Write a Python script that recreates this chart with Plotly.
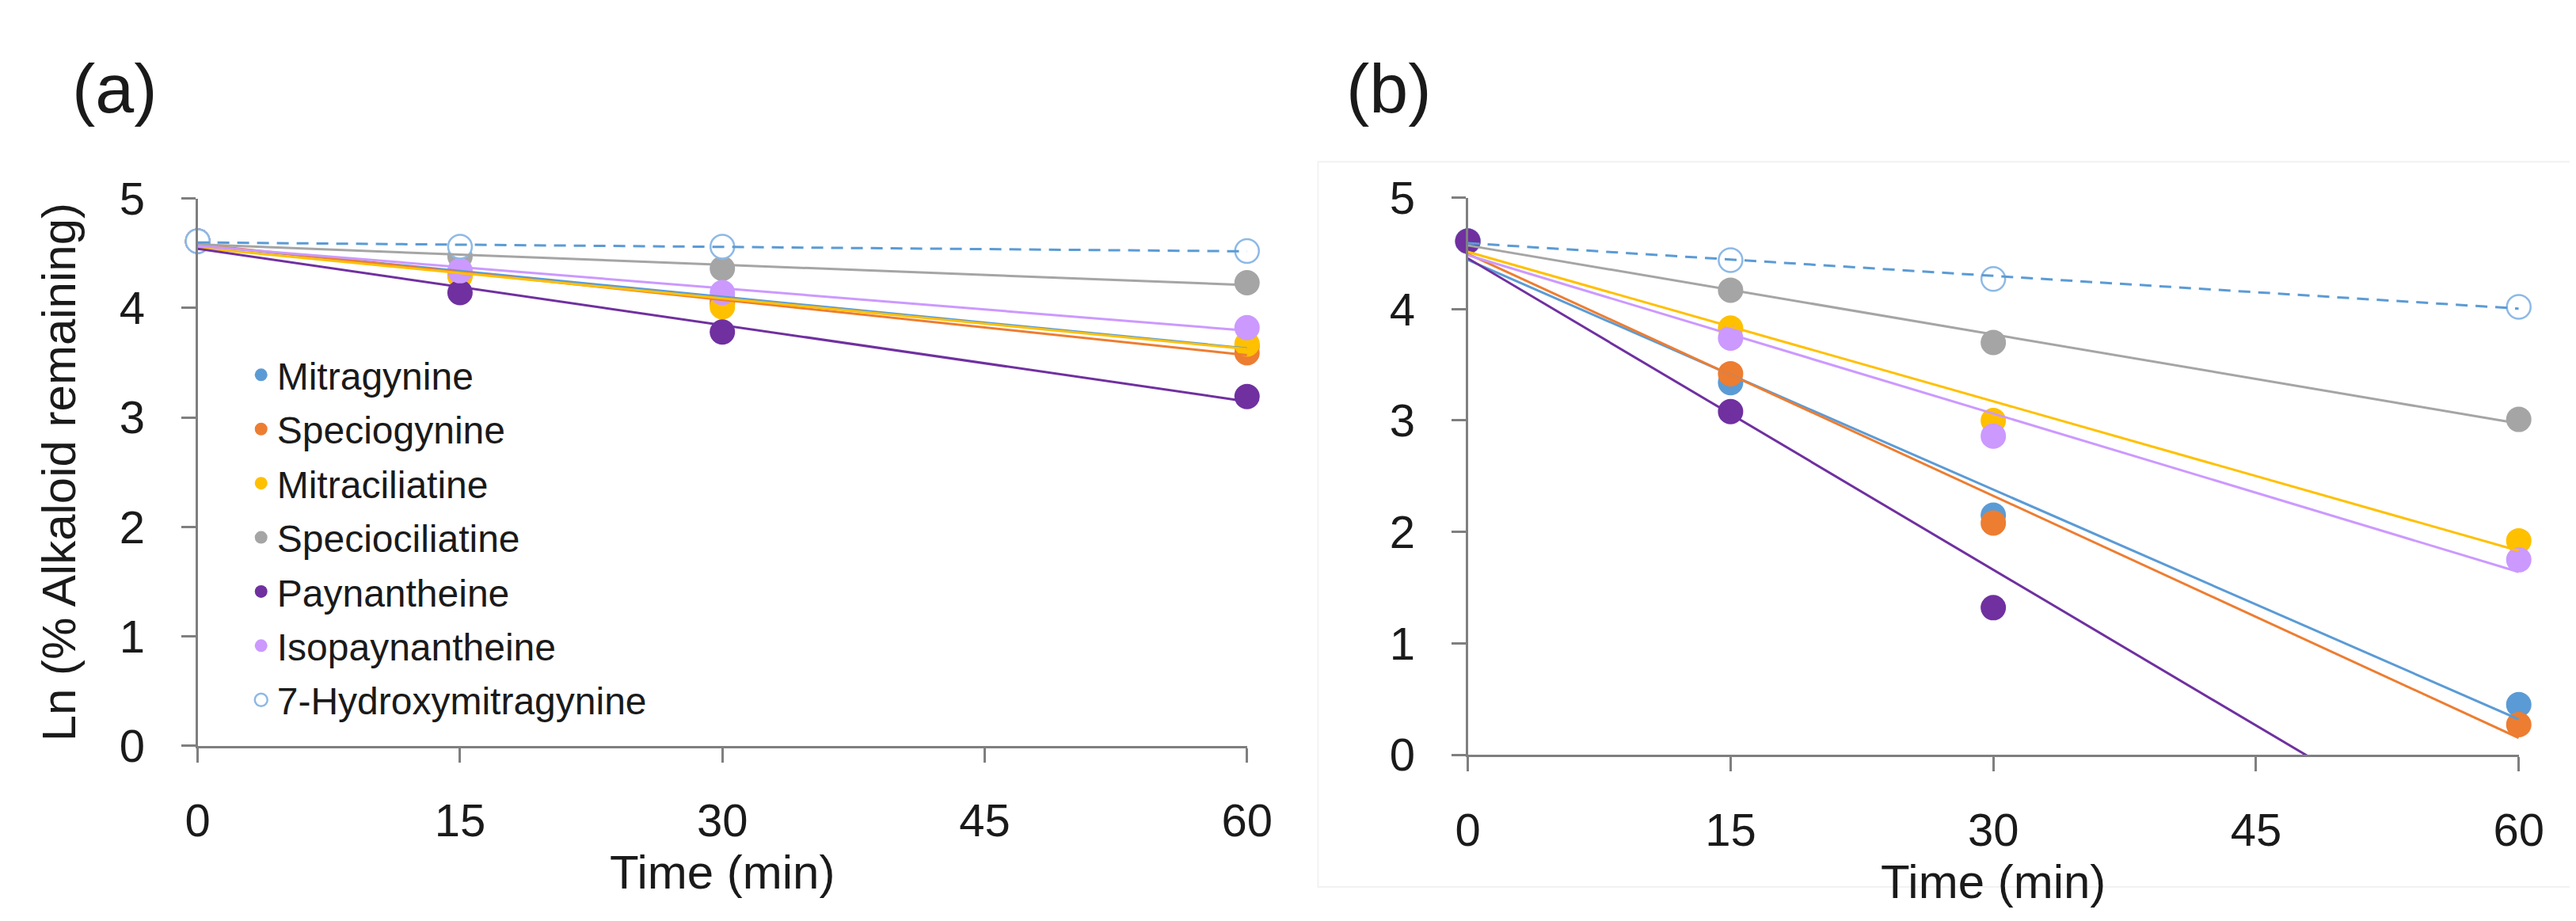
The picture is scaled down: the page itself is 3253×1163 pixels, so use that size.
import numpy as np
import plotly.graph_objects as go

W, H = 3253, 1163

time = [0, 15, 30, 60]
names = ['Mitragynine', 'Speciogynine', 'Mitraciliatine', 'Speciociliatine',
         'Paynantheine', 'Isopaynantheine', '7-Hydroxymitragynine']
colors = ['#5B9BD5', '#ED7D31', '#FFC000', '#A5A5A5', '#7030A0', '#CC99FF', '#5B9BD5']

# panel (a) - Ln(% remaining)
a_mitragynine = [4.61, 4.30, 4.08, 3.65]
a_speciogynine = [4.61, 4.31, 4.04, 3.59]
a_mitraciliatine = [4.61, 4.29, 4.01, 3.67]
a_speciociliatine = [4.61, 4.47, 4.36, 4.23]
a_paynantheine = [4.61, 4.14, 3.78, 3.19]
a_isopaynantheine = [4.61, 4.34, 4.14, 3.82]
a_hydroxy = [4.61, 4.56, 4.56, 4.52]

# panel (b)
b_mitragynine = [4.61, 3.34, 2.15, 0.45]
b_speciogynine = [4.61, 3.42, 2.08, 0.27]
b_mitraciliatine = [4.61, 3.83, 3.00, 1.92]
b_speciociliatine = [4.61, 4.17, 3.70, 3.01]
b_paynantheine = [4.61, 3.08, 1.32, -0.97]
b_isopaynantheine = [4.61, 3.74, 2.86, 1.75]
b_hydroxy = [4.61, 4.44, 4.27, 4.02]

panel_a = [a_mitragynine, a_speciogynine, a_mitraciliatine, a_speciociliatine,
           a_paynantheine, a_isopaynantheine, a_hydroxy]
panel_b = [b_mitragynine, b_speciogynine, b_mitraciliatine, b_speciociliatine,
           b_paynantheine, b_isopaynantheine, b_hydroxy]

# marker stacking order per panel (in (b) paynantheine sits on top)
order_a = [0, 1, 2, 3, 4, 5, 6]
order_b = [0, 1, 2, 3, 5, 6, 4]

FONT = 'Liberation Sans, Arial, sans-serif'
TXT = '#1a1a1a'
AXIS_COLOR = '#7f7f7f'


def add_panel(fig, data, order, xref, yref, show_legend):
    t = np.array(time, dtype=float)
    # measured points (only the ones inside the visible 0-5 range)
    for i in order:
        ys = data[i]
        pts = [(x, y) for x, y in zip(time, ys) if y >= 0]
        if names[i].startswith('7-'):
            marker = dict(size=30, color='white', symbol='circle',
                          line=dict(color='#8DB9E6', width=2.5))
        else:
            marker = dict(size=32, color=colors[i], line=dict(width=0))
        fig.add_trace(go.Scatter(
            x=[p[0] for p in pts], y=[p[1] for p in pts], mode='markers',
            marker=marker, name=names[i], legendgroup=names[i], legendrank=i,
            xaxis=xref, yaxis=yref, showlegend=show_legend, cliponaxis=False))
    # excel-style linear trendlines drawn over the points
    for i, ys in enumerate(data):
        slope, intercept = np.polyfit(t, np.array(ys), 1)
        xs = [t.min(), t.max()]
        dashed = names[i].startswith('7-')
        fig.add_trace(go.Scatter(
            x=xs, y=[intercept + slope * x for x in xs], mode='lines',
            line=dict(color=colors[i], width=3, dash='15px,10px' if dashed else 'solid'),
            xaxis=xref, yaxis=yref, showlegend=False, legendgroup=names[i],
            hoverinfo='skip', cliponaxis=True))


fig = go.Figure()
add_panel(fig, panel_a, order_a, 'x', 'y', True)
add_panel(fig, panel_b, order_b, 'x2', 'y2', False)

xa = dict(range=[0, 60], tickvals=[0, 15, 30, 45, 60], showgrid=False, zeroline=False,
          showline=True, linecolor=AXIS_COLOR, linewidth=3, ticks='outside',
          ticklen=18, tickwidth=3, tickcolor=AXIS_COLOR, ticklabelstandoff=24,
          tickfont=dict(family=FONT, size=58, color=TXT),
          title=dict(text='Time (min)', standoff=12,
                     font=dict(family=FONT, size=60, color=TXT)))
ya = dict(range=[0, 5], dtick=1, showgrid=False, zeroline=False,
          showline=True, linecolor=AXIS_COLOR, linewidth=3, ticks='outside',
          ticklen=18, tickwidth=3, tickcolor=AXIS_COLOR, ticklabelstandoff=34,
          tickfont=dict(family=FONT, size=58, color=TXT))

fig.update_layout(
    width=W, height=H,
    margin=dict(l=0, r=0, t=0, b=0),
    paper_bgcolor='white', plot_bgcolor='white',
    xaxis=dict(xa, domain=[229 / W, 1574 / W], anchor='y'),
    yaxis=dict(ya, domain=[1 - 954 / H, 1 - 222 / H], anchor='x',
               title=dict(text='Ln (% Alkaloid remaining)', standoff=36,
                          font=dict(family=FONT, size=60, color=TXT))),
    xaxis2=dict(xa, domain=[1857 / W, 3204 / W], anchor='y2'),
    yaxis2=dict(ya, domain=[1 - 966 / H, 1 - 221 / H], anchor='x2'),
    legend=dict(x=290 / W, y=1 - 418 / H, xanchor='left', yanchor='top',
                bgcolor='rgba(0,0,0,0)', tracegroupgap=3, traceorder='grouped',
                font=dict(family=FONT, size=48, color=TXT)),
    annotations=[
        dict(text='(a)', x=123 / W, y=1 - 75 / H, xref='paper', yref='paper',
             xanchor='center', yanchor='middle', showarrow=False,
             font=dict(family=FONT, size=88, color=TXT)),
        dict(text='(b)', x=1756 / W, y=1 - 75 / H, xref='paper', yref='paper',
             xanchor='center', yanchor='middle', showarrow=False,
             font=dict(family=FONT, size=88, color=TXT)),
    ],
    shapes=[
        dict(type='rect', xref='paper', yref='paper', x0=1665 / W, x1=1.02,
             y0=1 - 1143 / H, y1=1 - 173 / H, line=dict(color='#f2f2f2', width=2),
             layer='below'),
    ],
)

fig.write_html('out.html')
